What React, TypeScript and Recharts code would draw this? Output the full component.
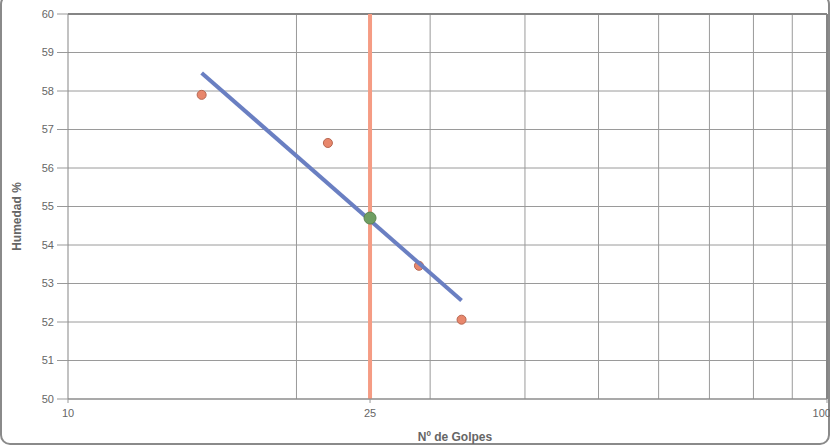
import React from "react";
import {
  ScatterChart,
  Scatter,
  XAxis,
  YAxis,
  CartesianGrid,
  ReferenceLine,
} from "recharts";

// Nº de golpes vs humedad (ensayo de límite líquido)
const golpes = [15, 22, 29, 33];
const humedad = [57.9, 56.65, 53.46, 52.06];

// recta de ajuste (extremos)
const trendGolpes = [15, 33];
const trendHumedad = [58.47, 52.56];

// punto a 25 golpes
const llGolpes = [25];
const llHumedad = [54.7];

const yTicks = [50, 51, 52, 53, 54, 55, 56, 57, 58, 59, 60];
const xTicks = [10, 25, 100];
const xGrid = [20, 30, 40, 50, 60, 70, 80, 90];

const points = golpes.map((g, i) => ({ x: g, y: humedad[i] }));
const trend = trendGolpes.map((g, i) => ({ x: g, y: trendHumedad[i] }));
const ll = llGolpes.map((g, i) => ({ x: g, y: llHumedad[i] }));

const FONT = "'Liberation Sans', Arial, sans-serif";
const GRID = "#9a9a9a";
const BORDER = "#858585";

const YTitle = ({ viewBox }: any) => {
  const cx = 18;
  const cy = viewBox ? viewBox.y + viewBox.height / 2 + 10 : 215;
  return (
    <text
      x={cx}
      y={cy}
      transform={`rotate(-90 ${cx} ${cy})`}
      textAnchor="middle"
      dominantBaseline="middle"
      fontFamily={FONT}
      fontSize={12}
      fontWeight="bold"
      fill="#666"
    >
      Humedad %
    </text>
  );
};

const XTitle = () => (
  <text
    x={455}
    y={441}
    textAnchor="middle"
    fontFamily={FONT}
    fontSize={12}
    fontWeight="bold"
    fill="#666"
  >
    Nº de Golpes
  </text>
);

export default function App() {
  return (
    <div
      style={{
        position: "fixed",
        left: 0,
        top: 0,
        width: 830,
        height: 445,
        background: "#fff",
        overflow: "hidden",
      }}
    >
      <div
        style={{
          position: "absolute",
          left: 0,
          top: -6,
          width: 826,
          height: 447,
          border: "2px solid #8a8a8a",
          borderRadius: 10,
          pointerEvents: "none",
        }}
      />
      <ScatterChart
        width={830}
        height={445}
        margin={{ top: 14, right: 3, bottom: 0, left: 0 }}
      >
        <CartesianGrid vertical={false} stroke={GRID} />
        {xGrid.map((v) => (
          <ReferenceLine key={v} x={v} stroke={GRID} strokeWidth={1} />
        ))}
        <ReferenceLine x={100} stroke={BORDER} strokeWidth={2} />
        <ReferenceLine y={60} stroke={BORDER} strokeWidth={2} />
        <XAxis
          type="number"
          dataKey="x"
          scale="log"
          domain={[10, 100]}
          ticks={xTicks}
          allowDataOverflow
          height={46}
          tickSize={4}
          tickMargin={6}
          axisLine={{ stroke: BORDER }}
          tickLine={{ stroke: "#999" }}
          tick={{ fontSize: 11, fill: "#666", fontFamily: FONT }}
          label={<XTitle />}
        />
        <YAxis
          type="number"
          dataKey="y"
          domain={[50, 60]}
          ticks={yTicks}
          width={68}
          tickSize={11}
          tickMargin={3}
          axisLine={{ stroke: BORDER }}
          tickLine={{ stroke: "#999" }}
          tick={{ fontSize: 11, fill: "#666", fontFamily: FONT }}
          label={<YTitle />}
        />
        <ReferenceLine x={25} stroke="#f59c84" strokeWidth={4} />
        <Scatter
          data={points}
          fill="#e8876c"
          stroke="#b76650"
          strokeWidth={1}
          shape="circle"
          isAnimationActive={false}
        />
        <Scatter
          data={trend}
          line={{ stroke: "#6a7fc2", strokeWidth: 4 }}
          shape={() => <g />}
          isAnimationActive={false}
        />
        <Scatter
          data={ll}
          fill="#6f9e62"
          stroke="#5a8450"
          shape={(p: any) => (
            <circle cx={p.cx} cy={p.cy} r={6} fill="#6f9e62" stroke="#5a8450" />
          )}
          isAnimationActive={false}
        />
      </ScatterChart>
    </div>
  );
}
